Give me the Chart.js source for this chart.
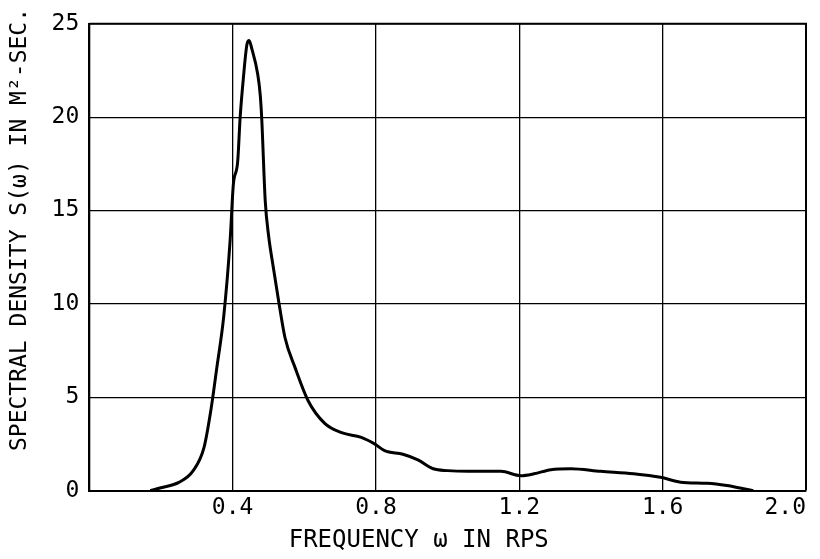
<!DOCTYPE html>
<html>
<head>
<meta charset="utf-8">
<script src="https://cdn.jsdelivr.net/npm/chart.js@4"></script>
<style>
  html, body { margin: 0; padding: 0; background: #fff; }
  #wrap { width: 820px; height: 559px; }
</style>
</head>
<body>
<div id="wrap"><canvas id="specChart"></canvas></div>
<script>
// frequency (rad/s) and spectral density (m^2-sec)
const freq = [0.17, 0.20, 0.25, 0.29, 0.32, 0.34, 0.356, 0.375, 0.393, 0.402, 0.414, 0.421, 0.430, 0.440, 0.446,
  0.453, 0.470, 0.477, 0.481, 0.491, 0.500, 0.514, 0.528, 0.546, 0.574, 0.611, 0.657, 0.704, 0.759, 0.796,
  0.824, 0.875, 0.917, 0.960, 1.00, 1.056, 1.149, 1.204, 1.241, 1.288, 1.344, 1.427, 1.519, 1.594, 1.650,
  1.724, 1.779, 1.826, 1.853];
const density = [0.0, 0.15, 0.44, 1.07, 2.3, 4.4, 6.6, 9.3, 13.4, 16.4, 17.6, 20.0, 22.1, 23.9, 24.1,
  23.7, 22.3, 21.2, 20.0, 15.5, 13.7, 11.9, 10.2, 8.2, 6.6, 4.8, 3.6, 3.1, 2.85, 2.5,
  2.14, 1.95, 1.65, 1.17, 1.07, 1.03, 1.03, 0.80, 0.90, 1.12, 1.17, 1.03, 0.90, 0.71, 0.45,
  0.39, 0.27, 0.10, 0.0];
const xTicks = [0, 0.4, 0.8, 1.2, 1.6, 2.0];
const yTicks = [0, 5, 10, 15, 20, 25];

const points = freq.map((f, i) => ({ x: f, y: density[i] }));
const mono = "'DejaVu Sans Mono', monospace";

new Chart(document.getElementById("specChart").getContext("2d"), {
  type: "line",
  data: {
    datasets: [{
      label: "S(ω)",
      data: points,
      borderColor: "#000",
      borderWidth: 3,
      pointRadius: 0,
      fill: false,
      cubicInterpolationMode: "monotone"
    }]
  },
  options: {
    responsive: true,
    maintainAspectRatio: false,
    animation: false,
    layout: { padding: { left: 6, right: 14, top: 10, bottom: 0 } },
    plugins: { legend: { display: false }, tooltip: { enabled: false } },
    scales: {
      x: {
        type: "linear",
        min: 0,
        max: 2,
        afterBuildTicks: (axis) => { axis.ticks = xTicks.map(v => ({ value: v })); },
        ticks: {
          color: "#000",
          font: { family: mono, size: 23 },
          padding: 4,
          align: "inner",
          maxRotation: 0,
          callback: (v) => (v === 0 ? "" : v.toFixed(1))
        },
        grid: { color: "#000", lineWidth: 1.3, drawTicks: false },
        border: { color: "#000", width: 2 },
        title: {
          display: true,
          text: "FREQUENCY ω IN RPS    ",
          color: "#000",
          font: { family: mono, size: 24 },
          padding: { top: 0, bottom: 4 }
        }
      },
      y: {
        min: 0,
        max: 25,
        afterBuildTicks: (axis) => { axis.ticks = yTicks.map(v => ({ value: v })); },
        ticks: {
          color: "#000",
          font: { family: mono, size: 23 },
          padding: 10
        },
        grid: { color: "#000", lineWidth: 1.3, drawTicks: false },
        border: { color: "#000", width: 2 },
        title: {
          display: true,
          text: "    SPECTRAL DENSITY S(ω) IN M²-SEC.",
          color: "#000",
          font: { family: mono, size: 23 },
          padding: { top: 0, bottom: 8 }
        }
      }
    }
  },
  plugins: [{
    // close the frame on the top and right like the original plot box
    id: "frame",
    afterDraw(chart) {
      const { ctx, chartArea: a } = chart;
      ctx.save();
      ctx.strokeStyle = "#000";
      ctx.lineWidth = 2;
      ctx.beginPath();
      ctx.moveTo(a.left, a.top);
      ctx.lineTo(a.right, a.top);
      ctx.lineTo(a.right, a.bottom);
      ctx.stroke();
      ctx.restore();
    }
  }]
});
</script>
</body>
</html>
